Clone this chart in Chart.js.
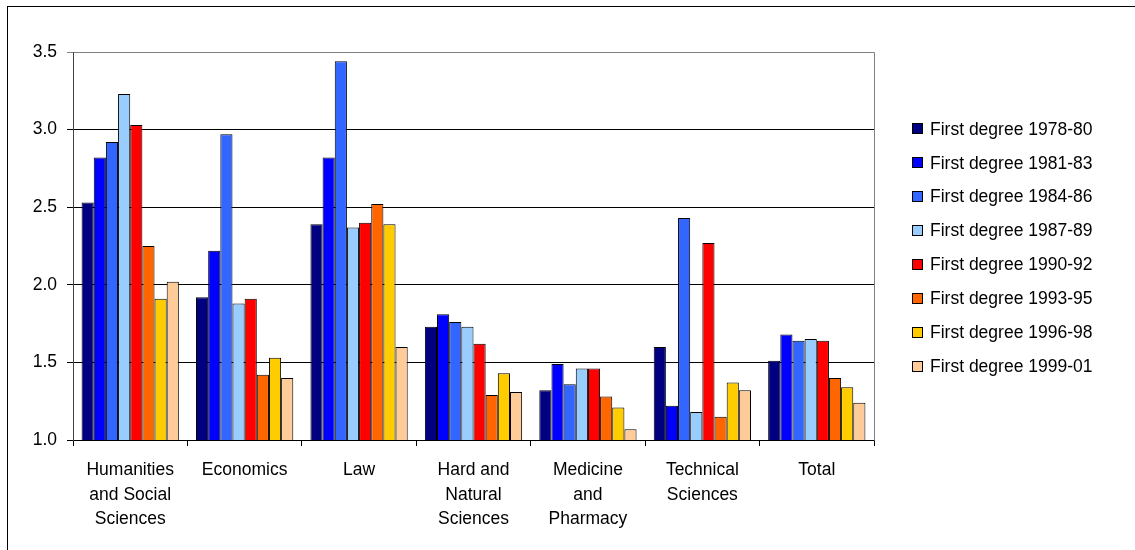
<!DOCTYPE html>
<html>
<head>
<meta charset="utf-8">
<script src="https://cdn.jsdelivr.net/npm/chart.js@4"></script>
<style>
    html, body { margin: 0; padding: 0; background: #fff; }
    #wrap { width: 1135px; height: 550px; }
</style>
</head>
<body>
<div id="wrap"><canvas id="degreeChart" width="1135" height="550"></canvas></div>
<script>
const fields = [
    ["Humanities", "and Social", "Sciences"],
    "Economics",
    "Law",
    ["Hard and", "Natural", "Sciences"],
    ["Medicine", "and", "Pharmacy"],
    ["Technical", "Sciences"],
    "Total"
];

const cohorts = [
    "First degree 1978-80", "First degree 1981-83", "First degree 1984-86", "First degree 1987-89",
    "First degree 1990-92", "First degree 1993-95", "First degree 1996-98", "First degree 1999-01"
];

const deg1978 = [2.53, 1.92, 2.39, 1.73, 1.32, 1.60, 1.51];
const deg1981 = [2.82, 2.22, 2.82, 1.81, 1.49, 1.22, 1.68];
const deg1984 = [2.92, 2.97, 3.44, 1.76, 1.36, 2.43, 1.64];
const deg1987 = [3.23, 1.88, 2.37, 1.73, 1.46, 1.18, 1.65];
const deg1990 = [3.03, 1.91, 2.40, 1.62, 1.46, 2.27, 1.64];
const deg1993 = [2.25, 1.42, 2.52, 1.29, 1.28, 1.15, 1.40];
const deg1996 = [1.91, 1.53, 2.39, 1.43, 1.21, 1.37, 1.34];
const deg1999 = [2.02, 1.40, 1.60, 1.31, 1.07, 1.32, 1.24];

const series = [deg1978, deg1981, deg1984, deg1987, deg1990, deg1993, deg1996, deg1999];
const colors = ["#000080", "#0000FF", "#3366FF", "#99CCFF", "#FF0000", "#FF6600", "#FFCC00", "#FFCC99"];

const FONT = "Liberation Sans, Arial, sans-serif";
const SIZE = 17.5;

// outer frame and grey plot border
const framePlugin = {
    id: "frame",
    beforeDraw(chart) {
        const ctx = chart.ctx;
        ctx.save();
        ctx.fillStyle = "#fff";
        ctx.fillRect(0, 0, chart.width, chart.height);
        ctx.strokeStyle = "#000";
        ctx.lineWidth = 1;
        ctx.strokeRect(7.5, 6.5, chart.width + 10, chart.height + 10);
        ctx.restore();
    },
    afterDatasetsDraw(chart) {
        const a = chart.chartArea;
        const ctx = chart.ctx;
        ctx.save();
        ctx.strokeStyle = "#808080";
        ctx.lineWidth = 1;
        ctx.beginPath();
        ctx.moveTo(Math.round(a.left) + 0.5, Math.round(a.top) + 0.5);
        ctx.lineTo(Math.round(a.right) + 0.5, Math.round(a.top) + 0.5);
        ctx.lineTo(Math.round(a.right) + 0.5, Math.round(a.bottom) + 0.5);
        ctx.stroke();
        ctx.restore();
    }
};

// legend drawn at the right side of the plot
const sideLegend = {
    id: "sideLegend",
    afterDraw(chart) {
        const ctx = chart.ctx;
        const a = chart.chartArea;
        const sets = chart.data.datasets;
        const step = 33.9;
        const mid = (a.top + a.bottom) / 2 + 1.5;
        const y0 = mid - step * (sets.length - 1) / 2;
        ctx.save();
        ctx.font = SIZE + "px " + FONT;
        ctx.textBaseline = "middle";
        ctx.textAlign = "left";
        sets.forEach((ds, i) => {
            const y = y0 + i * step;
            ctx.fillStyle = ds.backgroundColor;
            ctx.fillRect(912, Math.round(y - 5.5), 11, 11);
            ctx.strokeStyle = "#000";
            ctx.lineWidth = 1;
            ctx.strokeRect(912.5, Math.round(y - 5.5) + 0.5, 10, 10);
            ctx.fillStyle = "#000";
            ctx.fillText(ds.label, 930, y + 1);
        });
        ctx.restore();
    }
};

new Chart(document.getElementById("degreeChart"), {
    type: "bar",
    data: {
        labels: fields,
        datasets: series.map((s, i) => ({
            label: cohorts[i],
            data: s,
            backgroundColor: colors[i],
            borderColor: "#000",
            borderWidth: 1,
            categoryPercentage: 0.85,
            barPercentage: 1.0
        }))
    },
    options: {
        responsive: false,
        animation: false,
        layout: { padding: { top: 52, right: 261, left: 0, bottom: 0 } },
        plugins: {
            legend: { display: false },
            tooltip: { enabled: false }
        },
        scales: {
            x: {
                grid: {
                    display: true,
                    offset: true,
                    drawOnChartArea: false,
                    drawTicks: true,
                    tickLength: 6,
                    color: "#000"
                },
                border: { display: true, color: "#000" },
                ticks: {
                    color: "#000",
                    padding: 12,
                    maxRotation: 0,
                    autoSkip: false,
                    font: { family: FONT, size: SIZE, lineHeight: 1.4 }
                },
                afterFit(scale) { scale.height = 110; }
            },
            y: {
                min: 1,
                max: 3.5,
                ticks: {
                    stepSize: 0.5,
                    color: "#000",
                    padding: 10,
                    font: { family: FONT, size: SIZE },
                    callback: v => v.toFixed(1)
                },
                grid: {
                    color: ctx => (ctx.tick && ctx.tick.value === 3.5) ? "#808080" : "#000",
                    tickLength: 6,
                    lineWidth: 1
                },
                border: { display: true, color: "#404040" },
                afterFit(scale) { scale.width = 73; }
            }
        }
    },
    plugins: [framePlugin, sideLegend]
});
</script>
</body>
</html>
